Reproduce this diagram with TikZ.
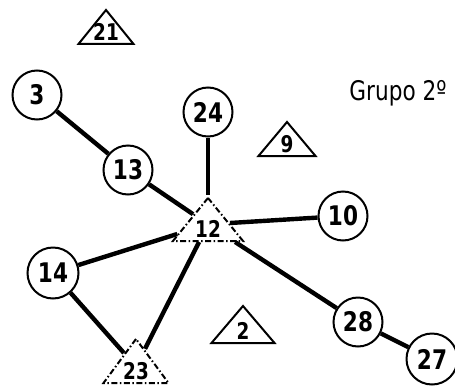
\documentclass[tikz,border=0pt]{standalone}
\usepackage{fontspec}
\setmainfont{DejaVu Sans}
\newfontfamily\narrowfont[FakeStretch=0.8, BoldFont={DejaVu Sans Bold}]{DejaVu Sans}
\usetikzlibrary{positioning,shapes.geometric}

\begin{document}
\begin{tikzpicture}[x=1pt, y=-1pt,
  vert/.style={circle, draw=black, line width=2pt, minimum size=49pt,
               inner sep=0pt, font=\narrowfont\bfseries\fontsize{27}{27}\selectfont},
  tri/.style={isosceles triangle, isosceles triangle stretches,
              shape border rotate=90, draw=black, line width=2pt,
              inner sep=0pt, anchor=south},
  num/.style={anchor=south, yshift=4pt, inner sep=0pt,
              font=\narrowfont\bfseries\fontsize{23}{23}\selectfont},
  hub/.style={tri, dash pattern=on 6pt off 2.5pt on 1.5pt off 2.5pt},
  link/.style={line width=4.4pt, black}]
  \useasboundingbox (0,0) rectangle (455,386);
  % free triangles
  \node[tri, minimum height=34pt, minimum width=55pt,
        label={[num]south:21}] (T21) at (106,45) {};
  \node[tri, minimum height=34pt, minimum width=57pt,
        label={[num]south:9}] (T9) at (287,157) {};
  \node[tri, minimum height=37pt, minimum width=63pt,
        label={[num]south:2}] (T2) at (243,344) {};
  % hubs
  \node[hub, minimum height=43pt, minimum width=70pt,
        label={[num]south:12}] (T12) at (208,242) {};
  \node[hub, minimum height=44pt, minimum width=65pt,
        label={[num]south:23}] (T23) at (136,384) {};
  % circles
  \node[vert] (C3) at (37,95) {3};
  \node[vert] (C24) at (208,112) {24};
  \node[vert] (C13) at (128,170) {13};
  \node[vert] (C10) at (343,216) {10};
  \node[vert, minimum size=51pt] (C14) at (53,273) {14};
  \node[vert] (C28) at (358,322) {28};
  \node[vert, minimum size=51pt] (C27) at (432,359) {27};
  \node[font=\narrowfont\fontsize{27}{27}\selectfont] (G) at (398,93) {Grupo 2º};
  % links
  \draw[link] (C3) -- (C13);
  \draw[link] (C13) -- (T12);
  \draw[link] (C24) -- (T12);
  \draw[link] (T12) -- (C10);
  \draw[link] (T12) -- (C14);
  \draw[link] (T12) -- (T23);
  \draw[link] (T12) -- (C28);
  \draw[link] (C14) -- (T23);
  \draw[link] (C28) -- (C27);
\end{tikzpicture}
\end{document}
